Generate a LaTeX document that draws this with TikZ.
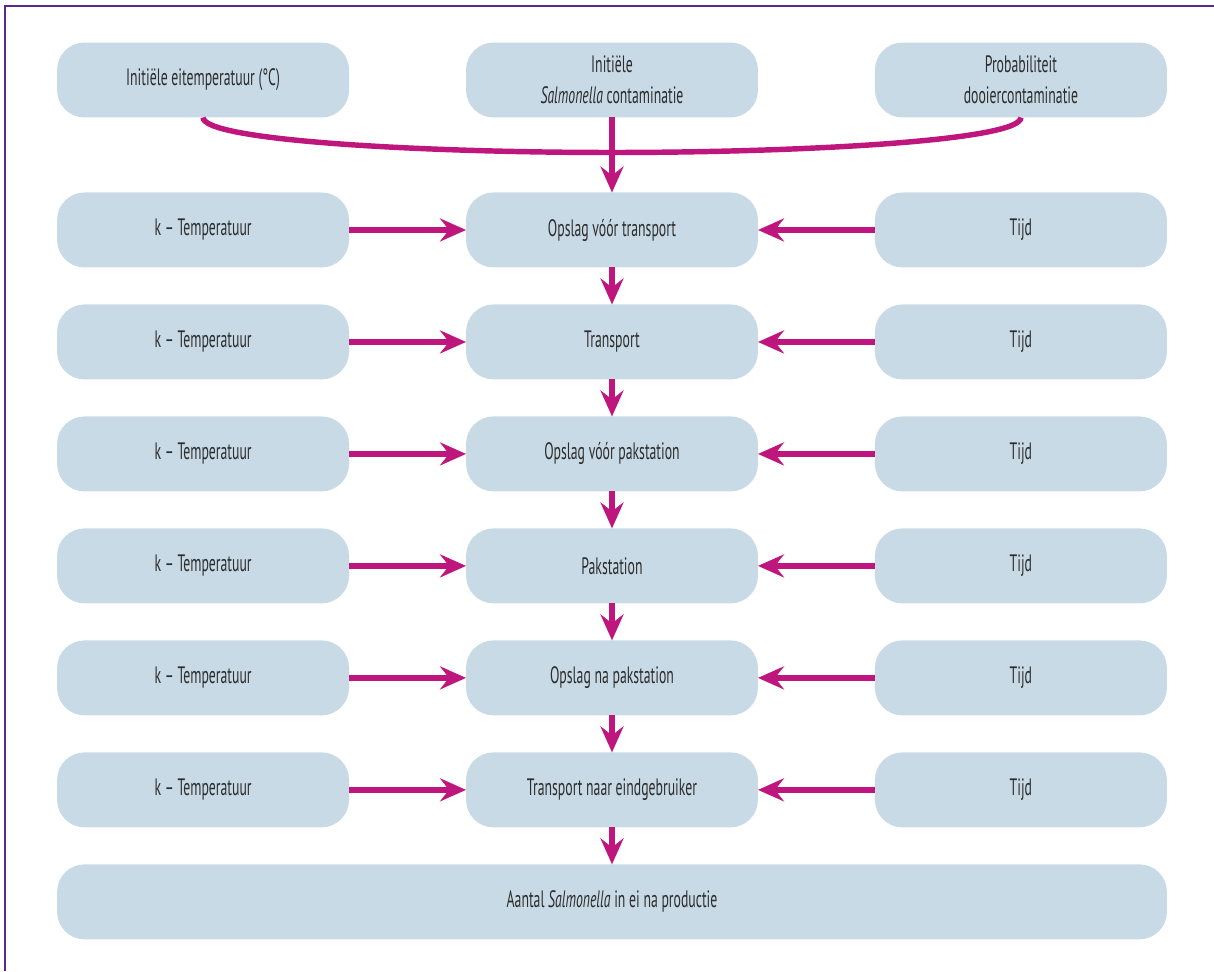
\documentclass[tikz,border=0pt]{standalone}
\usepackage{fontspec}
\setmainfont{PT Sans}[FakeStretch=0.58]
\usepackage{tikz}
\usetikzlibrary{arrows.meta,positioning}
\definecolor{boxblue}{RGB}{200,218,229}
\definecolor{arrmag}{RGB}{190,22,125}
\definecolor{framepurple}{RGB}{88,40,140}
\definecolor{txtgrey}{RGB}{45,45,45}

\begin{document}
\begin{tikzpicture}[x=0.02cm,y=-0.02cm,font=\fontsize{13.5pt}{17.6pt}\selectfont,text=txtgrey,
   node distance=7.4mm and 23.4mm,
   b/.style={fill=boxblue,rounded corners=5.5mm,minimum width=5.84cm,minimum height=1.5cm,
             align=center,inner sep=0pt,outer sep=0pt},
   a/.style={-{Stealth[length=5.2mm,width=4.6mm,inset=1.8mm]},line width=3.1pt,draw=arrmag}]
  \useasboundingbox (0,0) rectangle (1214,971);
  \draw[framepurple,line width=0.04cm] (5,971) -- (5,6) -- (1214,6);
  % inputs
  \node[b] (t2) at (612,80) {Initiële\\\textit{Salmonella} contaminatie};
  \node[b,left=of t2]  (t1) {Initiële eitemperatuur (°C)};
  \node[b,right=of t2] (t3) {Probabiliteit\\dooiercontaminatie};
  % chain
  \node[b,below=15mm of t2] (s1) {Opslag vóór transport};
  \node[b,below=of s1] (s2) {Transport};
  \node[b,below=of s2] (s3) {Opslag vóór pakstation};
  \node[b,below=of s3] (s4) {Pakstation};
  \node[b,below=of s4] (s5) {Opslag na pakstation};
  \node[b,below=of s5] (s6) {Transport naar eindgebruiker};
  \node[b,below=of s6,minimum width=22.2cm] (out) {Aantal \textit{Salmonella} in ei na productie};
  % side boxes
  \node[b,left=of s1] (k1) {k -- Temperatuur};
  \node[b,left=of s2] (k2) {k -- Temperatuur};
  \node[b,left=of s3] (k3) {k -- Temperatuur};
  \node[b,left=of s4] (k4) {k -- Temperatuur};
  \node[b,left=of s5] (k5) {k -- Temperatuur};
  \node[b,left=of s6] (k6) {k -- Temperatuur};
  \node[b,right=of s1] (tj1) {Tijd};
  \node[b,right=of s2] (tj2) {Tijd};
  \node[b,right=of s3] (tj3) {Tijd};
  \node[b,right=of s4] (tj4) {Tijd};
  \node[b,right=of s5] (tj5) {Tijd};
  \node[b,right=of s6] (tj6) {Tijd};
  % arrows
  \coordinate[below=7mm of t2.south] (jn);
  \draw[arrmag,line width=3.1pt] (t1.south) .. controls +(0,-0.46cm) and +(-3.84cm,0) .. (jn);
  \draw[arrmag,line width=3.1pt] (t3.south) .. controls +(0,-0.46cm) and +(3.84cm,0) .. (jn);
  \draw[a] (t2) -- (s1);
  \draw[a] (s1) -- (s2);
  \draw[a] (s2) -- (s3);
  \draw[a] (s3) -- (s4);
  \draw[a] (s4) -- (s5);
  \draw[a] (s5) -- (s6);
  \draw[a] (s6) -- (out);
  \draw[a] (k1) -- (s1);
  \draw[a] (k2) -- (s2);
  \draw[a] (k3) -- (s3);
  \draw[a] (k4) -- (s4);
  \draw[a] (k5) -- (s5);
  \draw[a] (k6) -- (s6);
  \draw[a] (tj1) -- (s1);
  \draw[a] (tj2) -- (s2);
  \draw[a] (tj3) -- (s3);
  \draw[a] (tj4) -- (s4);
  \draw[a] (tj5) -- (s5);
  \draw[a] (tj6) -- (s6);
\end{tikzpicture}
\end{document}
